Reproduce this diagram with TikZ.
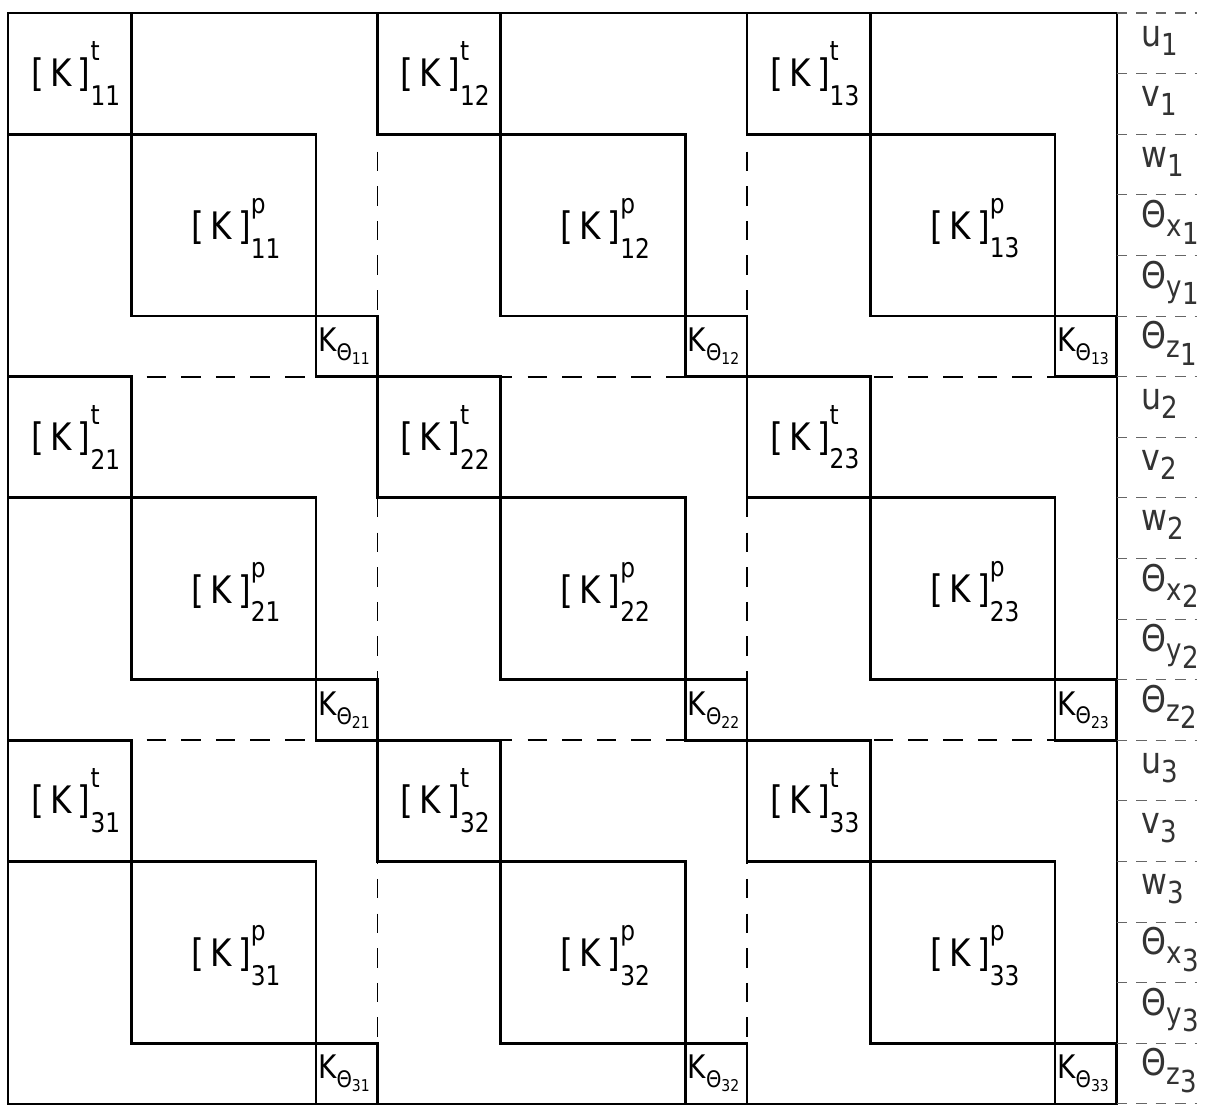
\documentclass[tikz,border=0pt]{standalone}
\usepackage{fontspec}
\setmainfont{DejaVu Sans}[FakeStretch=0.86]
\usetikzlibrary{positioning}
\tikzset{
  box/.style={line width=1.3pt},
  border/.style={line width=0.9pt},
  split/.style={line width=0.8pt, dash pattern=on 9pt off 7pt},
  tick/.style={line width=0.5pt, black!60, dash pattern=on 5pt off 4pt},
  blk/.style={font=\fontsize{17.5}{20}\selectfont, inner sep=0pt},
  ktheta/.style={font=\fontsize{15}{18}\selectfont, inner sep=0pt, anchor=west},
  dof/.style={font=\fontsize{17}{20}\selectfont, inner sep=0pt, anchor=west, black!80}
}
% [K] with index above and below
\newcommand{\blklab}[2]{[\,K\,]\makebox[0pt][l]{\raisebox{1.25ex}{\fontsize{12.5}{14}\selectfont #1}}\raisebox{-0.9ex}{\fontsize{12.5}{14}\selectfont #2}}
% stiffness of the theta_z term
\newcommand{\kthlab}[1]{K\raisebox{-0.5ex}{\fontsize{10.5}{12}\selectfont Θ\raisebox{-0.35ex}{\fontsize{7.5}{9}\selectfont #1}}}
% lowered index for the unknowns
\newcommand{\dofsub}[1]{\raisebox{-0.45ex}{\fontsize{14}{16}\selectfont #1}}
\begin{document}
\begin{tikzpicture}[x=1cm, y=-0.984cm]
    \useasboundingbox (-0.13,-0.215) rectangle (19.76,18.1);

    % Block boundaries
    \foreach \c in {6,12} {
        \draw[split] (\c,0) -- (\c,18);
        \draw[split] (0,\c) -- (18,\c);
    }

    % Outer border
    \draw[border] (0,0) rectangle (18,18);

    % Nine blocks: t, p and theta parts
    \foreach \i in {1,2,3} {
        \foreach \j in {1,2,3} {
            \pgfmathsetmacro{\X}{6*(\j-1)}
            \pgfmathsetmacro{\Y}{6*(\i-1)}
            \draw[box] (\X,\Y) rectangle ++(2,2);
            \draw[box] (\X+2,\Y+2) rectangle ++(3,3);
            \draw[box] (\X+5,\Y+5) rectangle ++(1,1);
            \node[blk] (t\i\j) at (\X+1.1,\Y+1.0) {\blklab{t}{\i\j}};
            \node[blk] (p\i\j) at (\X+3.7,\Y+3.55) {\blklab{p}{\i\j}};
            \node[ktheta] (k\i\j) at (\X+5.03,\Y+5.5) {\kthlab{\i\j}};
        }
    }

    % Separators of the unknowns
    \foreach \r in {0,...,18}
        \draw[tick] (18,\r) -- (19.3,\r);

    % Unknowns
    \foreach \i in {1,2,3} {
        \foreach \n/\lab [count=\k from 0] in {u/u\dofsub{\i}, v/v\dofsub{\i}, w/w\dofsub{\i},
                tx/Θ\dofsub{x\dofsub{\i}}, ty/Θ\dofsub{y\dofsub{\i}}, tz/Θ\dofsub{z\dofsub{\i}}}
            \node[dof] (\n\i) at (18.4,6*\i-6+\k+0.45) {\lab};
    }
\end{tikzpicture}
\end{document}
